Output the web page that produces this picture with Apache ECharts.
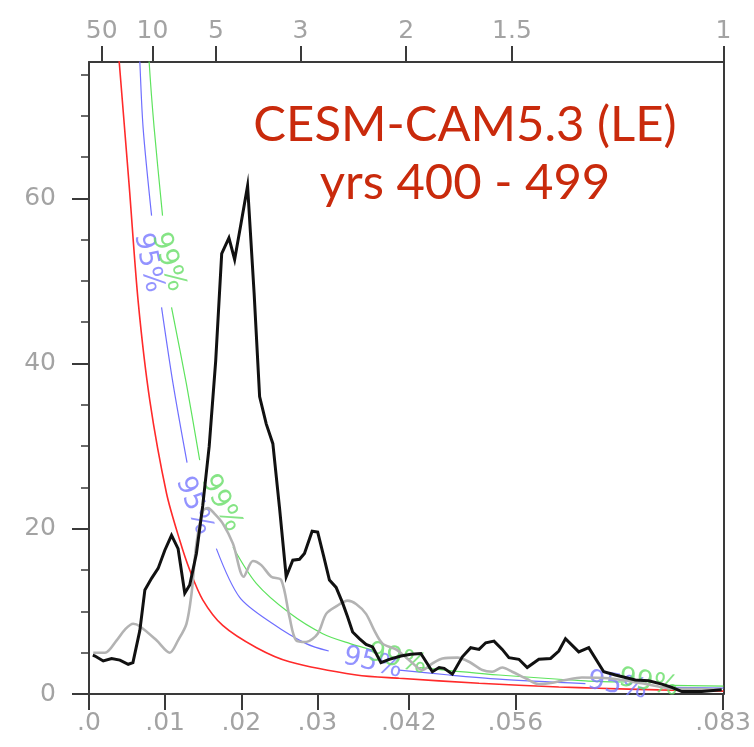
<!DOCTYPE html>
<html><head><meta charset="utf-8">
<script src="https://cdn.jsdelivr.net/npm/echarts@6/dist/echarts.min.js"></script>
<style>html,body{margin:0;padding:0;background:#fff}#c{width:754px;height:747px}</style>
</head><body><div id="c"></div>
<script>
// ---- axis ticks / labels ----
const bottomTickValues = [0, 0.01, 0.02, 0.03, 0.042, 0.056, 0.0833];
const bottomTickLabels = ['.0', '.01', '.02', '.03', '.042', '.056', '.083'];
const topPeriods = [50, 10, 5, 3, 2, 1.5, 1];            // years
const topTickLabels = ['50', '10', '5', '3', '2', '1.5', '1'];
const yMajorTicks = [0, 20, 40, 60];
const yMinorTicks = [5, 10, 15, 25, 30, 35, 45, 50, 55, 65, 70, 75];
const freqMax = 1 / 12;
const powerMax = 76.5;

// ---- model spectrum (black) ----
const blackFreq = [0.0005, 0.00079, 0.00187, 0.00297, 0.00406, 0.00515, 0.00577, 0.00668, 0.00734, 0.00822, 0.00908, 0.00996, 0.01084, 0.0117, 0.01258, 0.01323, 0.01411, 0.01494, 0.01579, 0.01664, 0.01743, 0.01838, 0.01913, 0.01998, 0.02083, 0.02169, 0.02241, 0.02328, 0.02415, 0.02503, 0.0259, 0.02677, 0.02765, 0.0283, 0.02931, 0.03004, 0.03079, 0.03158, 0.03246, 0.03332, 0.03394, 0.03463, 0.03551, 0.03639, 0.03725, 0.03835, 0.03944, 0.04097, 0.04228, 0.04359, 0.04511, 0.04599, 0.04665, 0.04773, 0.04904, 0.05014, 0.05123, 0.05211, 0.0532, 0.05428, 0.05516, 0.05647, 0.05756, 0.05909, 0.06063, 0.06171, 0.06259, 0.06433, 0.06564, 0.06761, 0.06914, 0.07176, 0.07351, 0.07525, 0.07656, 0.07787, 0.08049, 0.08311];
const blackPower = [4.7, 4.6, 4.0, 4.3, 4.1, 3.6, 3.8, 7.7, 12.6, 14.0, 15.2, 17.4, 19.2, 17.6, 12.2, 13.2, 17.0, 22.8, 30.0, 40.3, 53.3, 55.2, 52.6, 57.0, 61.5, 48.5, 36.0, 32.7, 30.3, 22.5, 14.2, 16.2, 16.3, 17.0, 19.7, 19.6, 16.8, 13.8, 12.9, 11.0, 9.4, 7.5, 6.7, 6.0, 5.7, 3.8, 4.2, 4.6, 4.8, 4.9, 2.7, 3.2, 3.1, 2.4, 4.5, 5.6, 5.4, 6.2, 6.4, 5.4, 4.4, 4.2, 3.2, 4.2, 4.3, 5.2, 6.7, 5.1, 5.6, 2.7, 2.3, 1.7, 1.6, 1.2, 0.8, 0.3, 0.3, 0.5];

// ---- second spectrum (grey) ----
const greyFreq = [0.00056, 0.0021, 0.00363, 0.00472, 0.0058, 0.00668, 0.00887, 0.01061, 0.0117, 0.0128, 0.01346, 0.01411, 0.01498, 0.01563, 0.01651, 0.0176, 0.01891, 0.02031, 0.02153, 0.02263, 0.02394, 0.02525, 0.02634, 0.02721, 0.02852, 0.03004, 0.03115, 0.03246, 0.03398, 0.03508, 0.03639, 0.03747, 0.03856, 0.04032, 0.04206, 0.0438, 0.04511, 0.04642, 0.04839, 0.04992, 0.05166, 0.05297, 0.05428, 0.05559, 0.05735, 0.05909, 0.0604, 0.06259, 0.06473, 0.06826, 0.07259, 0.07613, 0.08006, 0.08307];
const greyPower = [5.0, 5.0, 6.5, 7.8, 8.5, 8.2, 6.5, 5.0, 6.5, 8.5, 12.1, 18.2, 22.2, 22.5, 21.8, 20.6, 18.2, 14.2, 16.1, 15.6, 14.2, 13.8, 9.3, 6.5, 6.3, 7.3, 9.7, 10.6, 11.3, 10.9, 9.7, 7.7, 6.1, 5.4, 4.1, 2.9, 3.7, 4.3, 4.4, 3.9, 2.9, 2.7, 3.2, 2.7, 1.9, 1.2, 1.3, 1.7, 2.0, 1.9, 1.3, 0.7, 0.6, 0.5];

// ---- red-noise background (red) ----
const redFreq = [0.00367, 0.00397, 0.00528, 0.00647, 0.00799, 0.01018, 0.01192, 0.01323, 0.01494, 0.01756, 0.02201, 0.02634, 0.03512, 0.04075, 0.05123, 0.06171, 0.06696, 0.07482, 0.08333];
const redPower = [80, 76.5, 61.5, 47.4, 35.5, 24.3, 18.6, 15.0, 11.4, 8.3, 5.6, 3.9, 2.3, 1.9, 1.3, 0.85, 0.7, 0.5, 0.35];

// ---- 95% confidence (blue), null = gap for label ----
const blueFreq = [0.00655, 0.00668, 0.00711, 0.00822, 0.0089, 0.00953, 0.01105, 0.01288, 0.015, 0.01673, 0.01979, 0.02415, 0.02852, 0.03149, 0.036, 0.04075, 0.04731, 0.05385, 0.06521, 0.0712, 0.07652, 0.08333];
const bluePower = [80, 76.5, 68.5, 57.9, null, 46.8, 37.5, 28.0, null, 17.6, 11.7, 8.5, 6.1, 5.2, null, 2.9, 2.3, 1.8, 1.25, null, 0.8, 0.7];

// ---- 99% confidence (green) ----
const greenFreq = [0.00777, 0.0079, 0.00856, 0.00966, 0.0103, 0.01084, 0.0128, 0.01454, 0.017, 0.01891, 0.02197, 0.02634, 0.0307, 0.0343, 0.0377, 0.041, 0.04337, 0.05385, 0.06521, 0.0704, 0.073, 0.07652, 0.08333];
const greenPower = [80, 76.5, 68.5, 57.9, null, 46.8, 37.5, 28.3, null, 17.8, 13.4, 9.8, 7.3, 6.1, 5.2, null, 3.2, 2.3, 1.6, 1.45, null, 1.05, 0.95];

// ---- curve labels ----
const blueLabelFreq = [0.00777, 0.01378, 0.03728, 0.0694];
const blueLabelPower = [52.2, 22.8, 3.74, 1.0];
const greenLabelFreq = [0.01039, 0.01739, 0.0405, 0.0735];
const greenLabelPower = [52.3, 23.1, 4.2, 1.33];
const blueLabelRotate = [-78, -69, -14, -10];
const greenLabelRotate = [-73, -63, -14, -10];

const titleLines = ['CESM-CAM5.3 (LE)', 'yrs 400 - 499'];

// ---- build ----
const pairs = (xs, ys) => xs.map((x, i) => [x, ys[i] === null ? '-' : ys[i]]);
const topTickValues = topPeriods.map(p => 1 / (12 * p));
const lookup = (vals, labels) => v => {
  const i = vals.findIndex(t => Math.abs(t - v) < 1e-6);
  return i >= 0 ? labels[i] : '';
};
const lblFont = "'DejaVu Sans ExtraLight', 'DejaVu Sans', sans-serif";
const axisColor = '#3a3a3a';
const labelColor = '#a3a3a3';

const chart = echarts.init(document.getElementById('c'), null, {renderer: 'canvas'});
const option = {
  animation: false,
  backgroundColor: '#fff',
  grid: {left: 89, right: 29, top: 62, bottom: 53, containLabel: false},
  xAxis: [
    {
      type: 'value', position: 'bottom', min: 0, max: freqMax,
      axisLine: {show: true, onZero: false, lineStyle: {color: axisColor, width: 2}},
      axisTick: {show: true, inside: false, length: 16, customValues: bottomTickValues, lineStyle: {color: axisColor, width: 2}},
      axisLabel: {show: true, customValues: bottomTickValues, formatter: lookup(bottomTickValues, bottomTickLabels), margin: 17, color: labelColor, fontSize: 25, fontFamily: lblFont, showMaxLabel: true, showMinLabel: true},
      splitLine: {show: false}
    },
    {
      type: 'value', position: 'top', min: 0, max: freqMax,
      axisLine: {show: true, onZero: false, lineStyle: {color: axisColor, width: 2}},
      axisTick: {show: true, inside: false, length: 16, customValues: topTickValues, lineStyle: {color: axisColor, width: 2}},
      axisLabel: {show: true, customValues: topTickValues, formatter: lookup(topTickValues, topTickLabels), margin: 18, color: labelColor, fontSize: 25, fontFamily: lblFont, showMaxLabel: true, showMinLabel: true},
      splitLine: {show: false}
    }
  ],
  yAxis: [
    {
      type: 'value', position: 'left', min: 0, max: powerMax,
      axisLine: {show: true, onZero: false, lineStyle: {color: axisColor, width: 2}},
      axisTick: {show: true, inside: false, length: 17, customValues: yMajorTicks, lineStyle: {color: axisColor, width: 2}},
      axisLabel: {show: true, customValues: yMajorTicks, margin: 33, color: labelColor, fontSize: 25, fontFamily: lblFont},
      splitLine: {show: false}
    },
    {
      type: 'value', position: 'left', min: 0, max: powerMax,
      axisLine: {show: false},
      axisTick: {show: true, inside: false, length: 8, customValues: yMinorTicks, lineStyle: {color: axisColor, width: 1.5}},
      axisLabel: {show: false},
      splitLine: {show: false}
    },
    {
      type: 'value', position: 'right', min: 0, max: powerMax,
      axisLine: {show: true, onZero: false, lineStyle: {color: axisColor, width: 2}},
      axisTick: {show: false}, axisLabel: {show: false}, splitLine: {show: false}
    }
  ],
  series: [
    {type: 'line', name: 'red', data: pairs(redFreq, redPower), smooth: 0.3, showSymbol: false, silent: true,
      lineStyle: {color: '#ff2a2a', width: 1.6}, z: 2},
    {type: 'line', name: 'blue', data: pairs(blueFreq, bluePower), smooth: 0.3, showSymbol: false, connectNulls: false, silent: true,
      lineStyle: {color: '#6f6fff', width: 1.2}, z: 2},
    {type: 'line', name: 'green', data: pairs(greenFreq, greenPower), smooth: 0.3, showSymbol: false, connectNulls: false, silent: true,
      lineStyle: {color: '#5ee35e', width: 1.2}, z: 2},
    {type: 'scatter', name: 'blueLbl', symbolSize: 1, itemStyle: {color: 'transparent'}, silent: true, z: 3,
      data: blueLabelFreq.map((f, i) => ({value: [f, blueLabelPower[i]], label: {rotate: blueLabelRotate[i]}})),
      label: {show: true, formatter: '95%', position: 'inside', align: 'center', verticalAlign: 'middle', color: '#7878ff', fontSize: 27, fontFamily: lblFont}},
    {type: 'scatter', name: 'greenLbl', symbolSize: 1, itemStyle: {color: 'transparent'}, silent: true, z: 3,
      data: greenLabelFreq.map((f, i) => ({value: [f, greenLabelPower[i]], label: {rotate: greenLabelRotate[i]}})),
      label: {show: true, formatter: '99%', position: 'inside', align: 'center', verticalAlign: 'middle', color: '#66dd66', fontSize: 27, fontFamily: lblFont}},
    {type: 'line', name: 'grey', data: pairs(greyFreq, greyPower), smooth: 0.3, showSymbol: false, silent: true,
      lineStyle: {color: '#b3b3b3', width: 2.6}, z: 4},
    {type: 'line', name: 'black', data: pairs(blackFreq, blackPower), smooth: false, showSymbol: false, silent: true,
      lineStyle: {color: '#111111', width: 3, join: 'miter'}, z: 5}
  ],
  graphic: [
    {type: 'text', x: 465, y: 125, z: 10, silent: true,
      style: {text: titleLines[0], fill: '#c92a0c', font: "49px Lato, 'Open Sans', sans-serif", align: 'center', verticalAlign: 'middle'}},
    {type: 'text', x: 465, y: 183, z: 10, silent: true,
      style: {text: titleLines[1], fill: '#c92a0c', font: "49px Lato, 'Open Sans', sans-serif", align: 'center', verticalAlign: 'middle'}}
  ]
};
chart.setOption(option);
</script>
</body></html>
